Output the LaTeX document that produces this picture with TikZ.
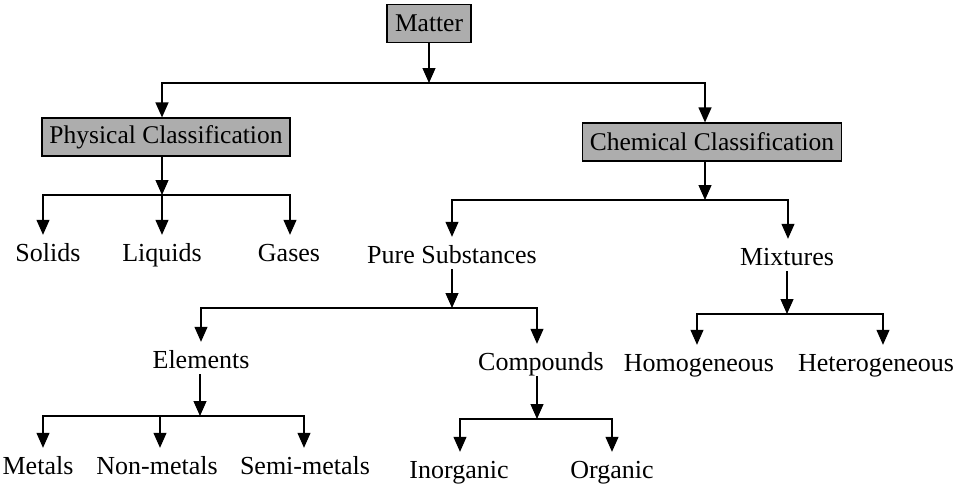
\documentclass[tikz,border=0pt]{standalone}
\usepackage{fontspec}
\setmainfont{Liberation Serif}
\usetikzlibrary{arrows.meta}
\tikzset{
  ln/.style={line width=1.2pt, line cap=rect},
  arr/.style={ln, -{Triangle[width=13pt,length=15pt]}},
  box/.style={draw=black, line width=1.2pt, fill=black!32, inner sep=0pt,
    minimum height=38pt, font=\fontsize{25.5}{30}\selectfont},
  lbl/.style={anchor=base, inner xsep=0pt, inner ysep=6pt, text height=20pt,
    text depth=0pt, font=\fontsize{26}{30}\selectfont}
}
\begin{document}
\begin{tikzpicture}[x=1pt,y=-1pt]
\useasboundingbox (0,0) rectangle (978,491);
% boxes
\node[box, minimum width=84pt] (matter) at (429,23.5) {Matter};
\node[box, minimum width=248pt] (phys) at (166,137) {Physical Classification};
\node[box, minimum width=259pt] (chem) at (712,142) {Chemical Classification};
% labels
\node[lbl] (solids) at (48,261) {Solids};
\node[lbl] (liquids) at (162,261) {Liquids};
\node[lbl] (gases) at (289,261) {Gases};
\node[lbl] (pure) at (452,263) {Pure Substances};
\node[lbl] (mix) at (787,265) {Mixtures};
\node[lbl] (elem) at (201,368) {Elements};
\node[lbl] (comp) at (541,370) {Compounds};
\node[lbl] (homo) at (699,371) {Homogeneous};
\node[lbl] (hetero) at (876,371) {Heterogeneous};
\node[lbl] (metals) at (38,474) {Metals};
\node[lbl] (nonmet) at (157,474) {Non-metals};
\node[lbl] (semimet) at (305,474) {Semi-metals};
\node[lbl] (inorg) at (459,478) {Inorganic};
\node[lbl] (org) at (612,478) {Organic};
% junctions
\coordinate (j0) at (429,83);
\coordinate (j1) at (162,195);
\coordinate (j2) at (705,200);
\coordinate (j3) at (452,308);
\coordinate (j4) at (787,314);
\coordinate (j5) at (200,416);
\coordinate (j6) at (537,419);
% matter
\draw[arr] (matter) -- (j0);
\draw[arr] (j0) -| ([xshift=-4pt]phys.north);
\draw[arr] (j0) -| ([xshift=-7pt]chem.north);
% physical
\draw[arr] (phys.south -| j1) -- (j1);
\draw[arr] (j1) -| ([xshift=-5pt]solids.north);
\draw[arr] (j1) -- (liquids);
\draw[arr] (j1) -| ([xshift=1pt]gases.north);
% chemical
\draw[arr] (chem.south -| j2) -- (j2);
\draw[arr] (j2) -| (pure.north);
\draw[arr] (j2) -| ([xshift=1pt]mix.north);
% pure substances
\draw[arr] (pure) -- (j3);
\draw[arr] (j3) -| (elem.north);
\draw[arr] (j3) -| ([xshift=-4pt]comp.north);
% mixtures
\draw[arr] (mix) -- (j4);
\draw[arr] (j4) -| ([xshift=-2pt]homo.north);
\draw[arr] (j4) -| ([xshift=7pt]hetero.north);
% elements
\draw[arr] (elem.south -| j5) -- (j5);
\draw[arr] (j5) -| ([xshift=5pt]metals.north);
\draw[arr] (j5) -| ([xshift=3pt]nonmet.north);
\draw[arr] (j5) -| ([xshift=-1pt]semimet.north);
% compounds
\draw[arr] (comp.south -| j6) -- (j6);
\draw[arr] (j6) -| ([xshift=1pt]inorg.north);
\draw[arr] (j6) -| (org.north);
\end{tikzpicture}
\end{document}
